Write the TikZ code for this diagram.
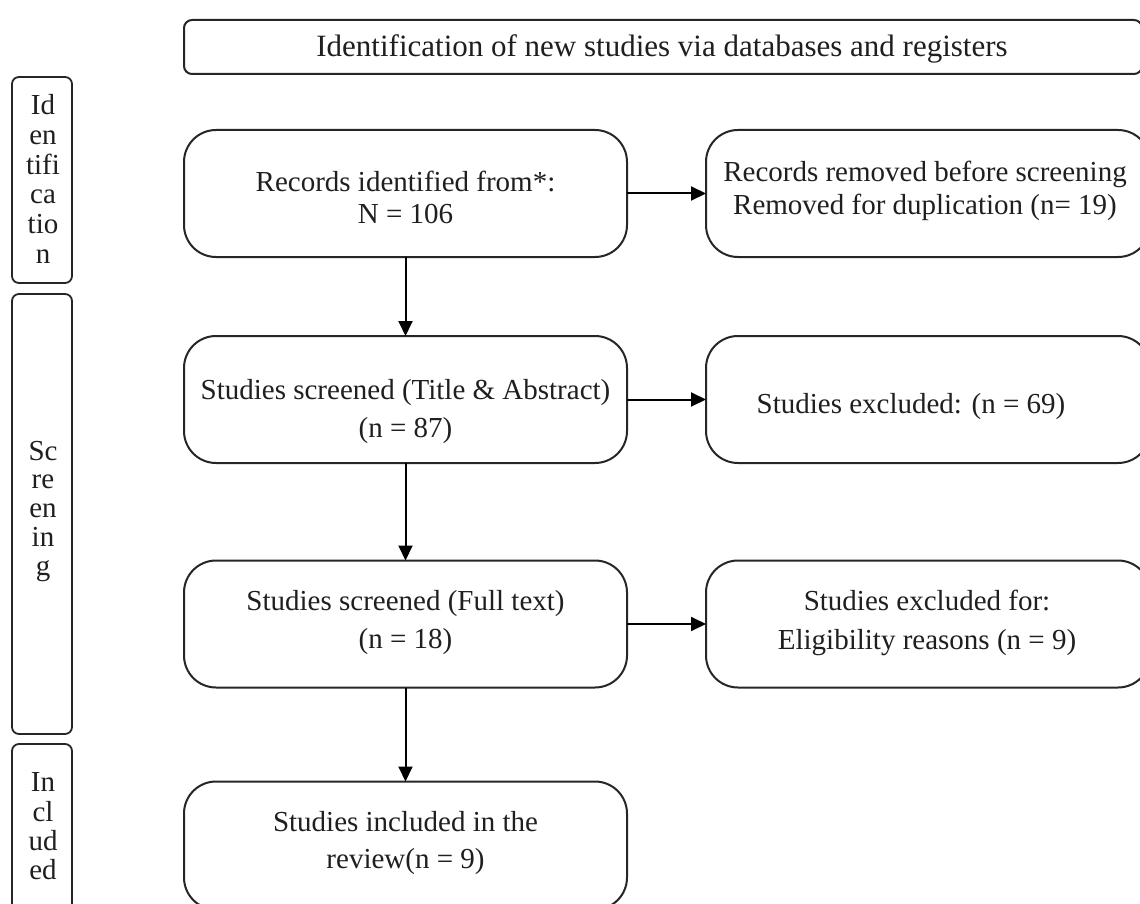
\documentclass[tikz,border=0pt]{standalone}
\usepackage{fontspec}
\setmainfont{Liberation Serif}
\usetikzlibrary{arrows.meta}
\begin{document}
\begin{tikzpicture}[x=1pt,y=-1pt,
  every node/.style={inner sep=0pt, outer sep=0pt},
  txt/.style={font=\fontsize{29}{30}\selectfont, text=black!88, anchor=base},
  ttltxt/.style={font=\fontsize{31}{30}\selectfont, text=black!88, anchor=base},
  box/.style={draw=black!85, line width=2pt, rounded corners=32pt, minimum width=443pt, minimum height=127pt},
  lab/.style={draw=black!85, line width=1.8pt, rounded corners=7pt, minimum width=60pt},
  ttl/.style={draw=black!85, line width=2pt, rounded corners=8pt, minimum width=958pt, minimum height=54pt},
  arr/.style={line width=2pt, -{Triangle[length=15pt,width=14pt]}}]
\useasboundingbox (0,0) rectangle (1140,904);
\clip (0,0) rectangle (1140,904);
\fill[white] (0,0) rectangle (1140,904);
% title
\node[ttl] (title) at (663,47) {};
\node[ttltxt] (t0) at (662,57) {Identification of new studies via databases and registers};
% side labels
\node[lab, minimum height=206pt] (idl) at (42,180) {};
\foreach \s [count=\i from 0] in {Id,en,tifi,ca,tio,n}
  \node[txt] (id\i) at (43,115+29.6*\i) {\s};
\node[lab, minimum height=440pt] (scl) at (42,514) {};
\foreach \s [count=\i from 0] in {Sc,re,en,in,g}
  \node[txt] (sc\i) at (43,460+28.75*\i) {\s};
\node[lab, minimum height=170pt] (inl) at (42,829) {};
\foreach \s [count=\i from 0] in {In,cl,ud,ed}
  \node[txt] (in\i) at (43,791.7+29.3*\i) {\s};
% main column
\node[box] (l1) at (405.5,193.5) {};
\node[txt] (l1a) at (405.5,191.7) {Records identified from*:};
\node[txt] (l1b) at (405.5,223.3) {N = 106};
\node[box] (l2) at (405.5,399.5) {};
\node[txt] (l2a) at (405.5,399) {Studies screened (Title \& Abstract)};
\node[txt] (l2b) at (405.5,437) {(n = 87)};
\node[box] (l3) at (405.5,624) {};
\node[txt] (l3a) at (405.5,610) {Studies screened (Full text)};
\node[txt] (l3b) at (405.5,648) {(n = 18)};
\node[box, minimum height=128pt] (l4) at (405.5,845.5) {};
\node[txt] (l4a) at (405.5,831) {Studies included in the};
\node[txt] (l4b) at (405.5,868) {review(n = 9)};
% right column
\node[box, minimum width=444pt] (r1) at (928,193.5) {};
\node[txt] (r1a) at (925,182) {Records removed before screening};
\node[txt] (r1b) at (925,214.5) {Removed for duplication (n= 19)};
\node[box, minimum width=444pt] (r2) at (928,399.5) {};
\node[txt] (r2a) at (911,413) {Studies excluded: (n = 69)};
\node[box, minimum width=444pt] (r3) at (928,624) {};
\node[txt] (r3a) at (927,610) {Studies excluded for:};
\node[txt] (r3b) at (927,649.5) {Eligibility reasons (n = 9)};
% arrows
\draw[arr] (l1.south) -- (l2.north);
\draw[arr] (l2.south) -- (l3.north);
\draw[arr] (l3.south) -- (l4.north);
\draw[arr] (l1.east) -- (r1.west);
\draw[arr] (l2.east) -- (r2.west);
\draw[arr] (l3.east) -- (r3.west);
\end{tikzpicture}
\end{document}
